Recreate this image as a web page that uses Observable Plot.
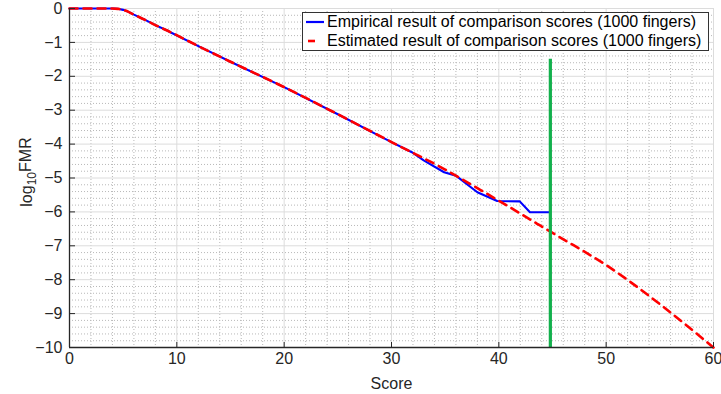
<!DOCTYPE html>
<html><head><meta charset="utf-8">
<script src="https://cdn.jsdelivr.net/npm/d3@7"></script>
<script src="https://cdn.jsdelivr.net/npm/@observablehq/plot@0.6"></script>
<style>
body{margin:0;background:#fff;}
#wrap{position:relative;width:721px;height:394px;font-family:"Liberation Sans",Arial,sans-serif;}
#legend{position:absolute;left:302px;top:12px;width:407px;height:39px;border:1px solid #333;background:#fff;box-sizing:border-box;font-size:16px;color:#000;padding-top:0px}
#legend .row{display:flex;align-items:center;height:18.5px;white-space:nowrap}
#legend svg{flex:none;margin-left:2px;margin-right:2px}
</style></head>
<body><div id="wrap"></div>
<script>
// Empirical result (blue)
const empScore = [0, 2, 4, 4.5, 5, 5.5, 6, 7, 8, 9.1, 9.4, 12.2, 15, 20, 25, 29, 30, 31.9, 33, 34.9, 36, 38, 39.85, 41.95, 42.9, 44.66];
const empLog   = [0, 0, 0, -0.01, -0.04, -0.1, -0.18, -0.33, -0.49, -0.65, -0.70, -1.14, -1.57, -2.32, -3.12, -3.78, -3.94, -4.24, -4.48, -4.83, -4.93, -5.42, -5.68, -5.69, -6.01, -6.01];
// Estimated result (red dashed)
const estScore = [0, 2, 4, 4.5, 5, 5.5, 6, 7, 8, 9.1, 12.2, 15, 20, 25, 30, 35, 38, 40, 43.57, 45, 47, 50, 52.27, 55, 57.5, 60];
const estLog   = [0, 0, 0, -0.01, -0.04, -0.1, -0.18, -0.33, -0.49, -0.65, -1.14, -1.57, -2.32, -3.12, -3.94, -4.75, -5.3, -5.67, -6.35, -6.62, -6.99, -7.57, -8.07, -8.72, -9.35, -10];
// Threshold line (green)
const thresholdScore = [44.8];
const thresholdTop = -1.5;
// ticks
const xTicks = [0, 10, 20, 30, 40, 50, 60];
const yTicks = [0, -1, -2, -3, -4, -5, -6, -7, -8, -9, -10];
const xMinor = d3.range(0, 61, 2).filter(d => d % 10 !== 0);
const yMinor = d3.range(-50, 1).map(d => d / 5).filter(d => !Number.isInteger(d));
const legendLabels = ["Empirical result of comparison scores (1000 fingers)", "Estimated result of comparison scores (1000 fingers)"];
const xLabel = "Score";

const emp = empScore.map((s, i) => ({s, v: empLog[i]}));
const est = estScore.map((s, i) => ({s, v: estLog[i]}));
const fmt = d => d < 0 ? "\u2212" + (-d) : String(d);

const chart = Plot.plot({
  width: 721, height: 394,
  marginLeft: 69, marginRight: 8, marginTop: 8, marginBottom: 47,
  style: {fontFamily: '"Liberation Sans", Arial, sans-serif', fontSize: "16px", color: "#262626", background: "#fff"},
  x: {domain: [0, 60]},
  y: {domain: [-10, 0]},
  marks: [
    Plot.gridX(xMinor, {stroke: "#b8b8b8", strokeOpacity: 1, strokeDasharray: "1,2"}),
    Plot.gridY(yMinor, {stroke: "#b8b8b8", strokeOpacity: 1, strokeDasharray: "1,2"}),
    Plot.gridX(xTicks, {stroke: "#dcdcdc", strokeOpacity: 1}),
    Plot.gridY(yTicks, {stroke: "#dcdcdc", strokeOpacity: 1}),
    Plot.line(emp, {x: "s", y: "v", stroke: "#0000ff", strokeWidth: 2.1}),
    Plot.line(est, {x: "s", y: "v", stroke: "#ff0000", strokeWidth: 2.6, strokeDasharray: "8,6", curve: "monotone-x"}),
    Plot.ruleX(thresholdScore, {y1: thresholdTop, y2: -10, stroke: "#12b04c", strokeWidth: 3.2}),
    Plot.ruleX([0], {stroke: "#262626", strokeWidth: 1.3}),
    Plot.ruleY([-10], {stroke: "#262626", strokeWidth: 1.3}),
    Plot.axisX(xTicks, {tickSize: -5, tickPadding: 10, fontSize: 16, stroke: "#262626", fill: "#262626", label: xLabel, labelAnchor: "center", labelArrow: "none", labelOffset: 41, tickFormat: fmt}),
    Plot.axisY(yTicks, {tickSize: -6, tickPadding: 13, fontSize: 16, stroke: "#262626", fill: "#262626", label: null, tickFormat: fmt})
  ]
});

const wrap = document.getElementById("wrap");
wrap.appendChild(chart);

// y axis label with subscript
const svg = d3.select(chart);
const t = svg.append("text")
  .attr("transform", "translate(32,172) rotate(-90)")
  .attr("text-anchor", "middle")
  .attr("fill", "#262626")
  .style("font-size", "16px");
t.append("tspan").text("log");
t.append("tspan").attr("dy", "0.35em").style("font-size", "12px").text("10");
t.append("tspan").attr("dy", "-0.35em").text("FMR");

// legend
const leg = document.createElement("div");
leg.id = "legend";
const swatches = [
  '<svg width="20" height="6"><line x1="1" x2="19" y1="3" y2="3" stroke="#0000ff" stroke-width="2.2"/></svg>',
  '<svg width="20" height="6"><line x1="3" x2="10" y1="3" y2="3" stroke="#ff0000" stroke-width="2.6"/></svg>'
];
legendLabels.forEach((lab, i) => {
  const r = document.createElement("div");
  r.className = "row";
  r.innerHTML = swatches[i];
  const sp = document.createElement("span");
  sp.textContent = lab;
  r.appendChild(sp);
  leg.appendChild(r);
});
wrap.appendChild(leg);
</script>
</body></html>
